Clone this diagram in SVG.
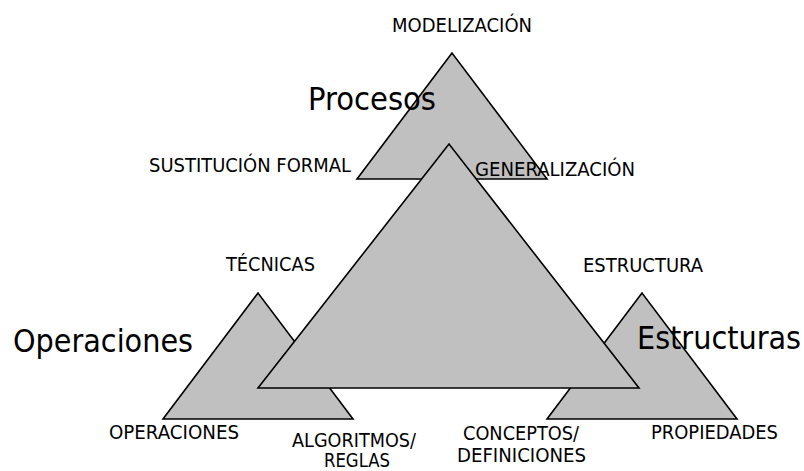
<svg xmlns="http://www.w3.org/2000/svg" width="804" height="471" viewBox="0 0 804 471">
<style>
.tri{fill:#C0C0C0;stroke:#000;stroke-width:1.6;stroke-linejoin:miter}
text{font-family:"DejaVu Sans Condensed","DejaVu Sans",sans-serif;fill:#000}
.s{font-size:19px}
.b{font-size:32px}
</style>
<rect width="804" height="471" fill="#fff"/>
<g id="procesos">
<polygon class="tri" points="452,53 357,179 547,179"/>
</g>
<g id="operaciones">
<polygon class="tri" points="258,293 163,419 353,419"/>
</g>
<g id="estructuras">
<polygon class="tri" points="642,293 547,419 737,419"/>
</g>
<g id="centro">
<polygon class="tri" points="449,144 258,388 639,388"/>
</g>
<g id="connectors"></g>
<g id="labels">
<text class="s" x="392" y="32" textLength="140" lengthAdjust="spacingAndGlyphs">MODELIZACIÓN</text>
<text class="b" x="308" y="110" textLength="128" lengthAdjust="spacingAndGlyphs">Procesos</text>
<text class="s" x="149" y="172" textLength="202" lengthAdjust="spacingAndGlyphs">SUSTITUCIÓN FORMAL</text>
<text class="s" x="475" y="176" textLength="160" lengthAdjust="spacingAndGlyphs">GENERALIZACIÓN</text>
<text class="s" x="226" y="271" textLength="89" lengthAdjust="spacingAndGlyphs">TÉCNICAS</text>
<text class="s" x="583" y="272" textLength="120" lengthAdjust="spacingAndGlyphs">ESTRUCTURA</text>
<text class="b" x="13" y="352" textLength="180" lengthAdjust="spacingAndGlyphs">Operaciones</text>
<text class="b" x="637" y="349" textLength="164" lengthAdjust="spacingAndGlyphs">Estructuras</text>
<text class="s" x="109" y="439" textLength="130" lengthAdjust="spacingAndGlyphs">OPERACIONES</text>
<text class="s" x="292" y="447" textLength="124" lengthAdjust="spacingAndGlyphs">ALGORITMOS/</text>
<text class="s" x="324" y="467" textLength="66" lengthAdjust="spacingAndGlyphs">REGLAS</text>
<text class="s" x="463" y="440" textLength="116" lengthAdjust="spacingAndGlyphs">CONCEPTOS/</text>
<text class="s" x="457" y="462" textLength="129" lengthAdjust="spacingAndGlyphs">DEFINICIONES</text>
<text class="s" x="651" y="439" textLength="127" lengthAdjust="spacingAndGlyphs">PROPIEDADES</text>
</g>
</svg>
